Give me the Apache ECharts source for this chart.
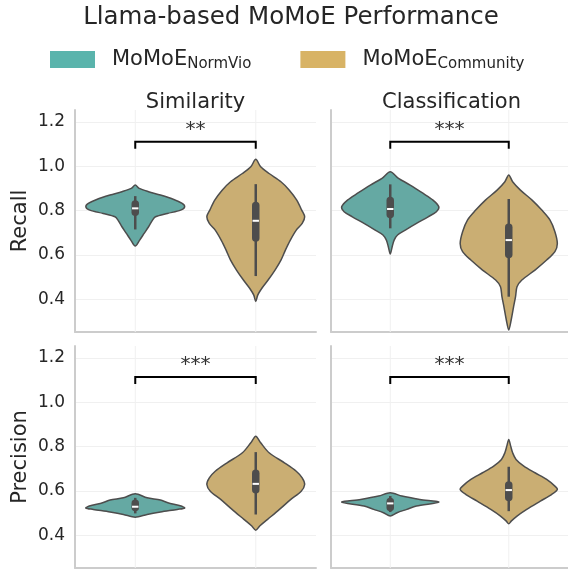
<!DOCTYPE html>
<html>
<head>
<meta charset="utf-8">
<script src="https://cdn.jsdelivr.net/npm/echarts@6.0.0/dist/echarts.min.js"></script>
<style>
html, body { margin: 0; padding: 0; background: #fff; }
#chart { width: 568px; height: 570px; }
</style>
</head>
<body>
<div id="chart"></div>
<script>
const tasks = ['Similarity', 'Classification']
const metrics = ['Recall', 'Precision']
const groups = ['MoMoE_NormVio', 'MoMoE_Community']

// violin outlines: [value, relative density]
const simRecallNormVio = [[0.915, 0], [0.900, 0.08], [0.885, 0.27], [0.870, 0.51], [0.850, 0.78], [0.832, 0.95], [0.817, 1.0], [0.802, 0.92], [0.787, 0.65], [0.772, 0.41], [0.757, 0.35], [0.727, 0.27], [0.697, 0.18], [0.667, 0.09], [0.640, 0]]
const simRecallCommunity = [[1.031, 0], [0.997, 0.10], [0.967, 0.27], [0.930, 0.51], [0.892, 0.68], [0.847, 0.83], [0.802, 0.93], [0.772, 0.99], [0.742, 0.94], [0.712, 0.82], [0.667, 0.70], [0.622, 0.60], [0.577, 0.51], [0.532, 0.39], [0.487, 0.25], [0.449, 0.12], [0.419, 0.04], [0.390, 0]]
const clsRecallNormVio = [[0.975, 0], [0.945, 0.17], [0.915, 0.41], [0.877, 0.68], [0.847, 0.88], [0.817, 1.0], [0.795, 0.95], [0.772, 0.78], [0.742, 0.54], [0.712, 0.31], [0.690, 0.15], [0.667, 0.08], [0.637, 0.04], [0.604, 0]]
const clsRecallCommunity = [[0.960, 0], [0.930, 0.08], [0.892, 0.24], [0.847, 0.48], [0.802, 0.68], [0.757, 0.85], [0.705, 0.95], [0.652, 1.0], [0.615, 0.95], [0.577, 0.78], [0.532, 0.54], [0.487, 0.27], [0.457, 0.17], [0.412, 0.14], [0.367, 0.10], [0.307, 0.05], [0.262, 0]]
const simPrecNormVio = [[0.587, 0], [0.569, 0.24], [0.559, 0.51], [0.547, 0.66], [0.532, 0.93], [0.523, 1.0], [0.517, 0.85], [0.505, 0.51], [0.494, 0.24], [0.482, 0]]
const simPrecCommunity = [[0.847, 0], [0.817, 0.10], [0.772, 0.27], [0.727, 0.58], [0.689, 0.82], [0.659, 0.94], [0.629, 0.99], [0.599, 0.92], [0.562, 0.71], [0.517, 0.48], [0.472, 0.24], [0.442, 0.08], [0.423, 0]]
const clsPrecNormVio = [[0.592, 0], [0.577, 0.24], [0.562, 0.61], [0.550, 1.0], [0.532, 0.54], [0.517, 0.34], [0.502, 0.14], [0.487, 0]]
const clsPrecCommunity = [[0.832, 0], [0.802, 0.04], [0.772, 0.08], [0.742, 0.15], [0.712, 0.31], [0.682, 0.54], [0.652, 0.78], [0.622, 0.95], [0.607, 1.0], [0.584, 0.88], [0.554, 0.65], [0.517, 0.37], [0.487, 0.17], [0.464, 0.05], [0.452, 0]]

// inner boxes: [low whisker, q1, median, q3, high whisker]
const simRecallBox = [[0.715, 0.775, 0.810, 0.847, 0.865], [0.505, 0.660, 0.754, 0.840, 0.919]]
const clsRecallBox = [[0.720, 0.765, 0.807, 0.862, 0.918], [0.412, 0.585, 0.667, 0.742, 0.852]]
const simPrecBox = [[0.499, 0.509, 0.529, 0.562, 0.569], [0.494, 0.589, 0.632, 0.697, 0.775]]
const clsPrecBox = [[0.505, 0.509, 0.544, 0.569, 0.577], [0.509, 0.554, 0.604, 0.644, 0.709]]

const sigLabels = ['**', '***', '***', '***']
const bracketLevel = [1.110, 1.110, 1.113, 1.113]

const panelProfiles = [
  [simRecallNormVio, simRecallCommunity],
  [clsRecallNormVio, clsRecallCommunity],
  [simPrecNormVio, simPrecCommunity],
  [clsPrecNormVio, clsPrecCommunity]
]
const panelBoxes = [simRecallBox, clsRecallBox, simPrecBox, clsPrecBox]

const font = 'DejaVu Sans'
const textColor = '#262626'
const legendColors = ['#5ab4ac', '#d8b365']
const violinColors = ['#65a9a3', '#caae73']
const lineColor = '#4d4d4d'
const maxHalf = 0.41

const grids = [
  { left: 75, top: 110, width: 241, height: 222 },
  { left: 331, top: 110, width: 241, height: 222 },
  { left: 75, top: 346, width: 241, height: 222 },
  { left: 331, top: 346, width: 241, height: 222 }
]

function violinRender(profile, box, xc) {
  return function(params, api) {
    const cs = params.coordSys
    const right = profile.map(p => api.coord([xc + p[1] * maxHalf, p[0]]))
    const left = profile.slice(1, -1).reverse().map(p => api.coord([xc - p[1] * maxHalf, p[0]]))
    const c = api.coord([xc, box[2]])
    const lo = api.coord([xc, box[0]])
    const hi = api.coord([xc, box[4]])
    const q1 = api.coord([xc, box[1]])
    const q3 = api.coord([xc, box[3]])
    const bw = 7.5
    return {
      type: 'group',
      children: [
        {
          type: 'line',
          shape: { x1: c[0], y1: cs.y, x2: c[0], y2: cs.y + cs.height },
          style: { stroke: '#f0f0f0', lineWidth: 1 }
        },
        {
          type: 'polygon',
          shape: { points: right.concat(left), smooth: 0.3 },
          style: { fill: violinColors[xc], stroke: lineColor, lineWidth: 1.5 }
        },
        {
          type: 'line',
          shape: { x1: c[0], y1: hi[1], x2: c[0], y2: lo[1] },
          style: { stroke: lineColor, lineWidth: 2.5 }
        },
        {
          type: 'rect',
          shape: { x: c[0] - bw / 2, y: q3[1], width: bw, height: q1[1] - q3[1], r: bw / 2 },
          style: { fill: lineColor }
        },
        {
          type: 'rect',
          shape: { x: c[0] - 3.2, y: c[1] - 1, width: 6.4, height: 2 },
          style: { fill: '#ffffff' }
        }
      ]
    }
  }
}

function bracketRender(p) {
  return function(params, api) {
    const a = api.coord([0, bracketLevel[p]])
    const b = api.coord([1, bracketLevel[p]])
    return {
      type: 'group',
      children: [
        {
          type: 'polyline',
          shape: { points: [[a[0], a[1] + 7], [a[0], a[1]], [b[0], b[1]], [b[0], b[1] + 7]] },
          style: { stroke: '#000000', lineWidth: 2, fill: null }
        },
        {
          type: 'text',
          style: {
            text: sigLabels[p],
            x: (a[0] + b[0]) / 2,
            y: a[1] - 2,
            align: 'center',
            verticalAlign: 'bottom',
            font: '20px "DejaVu Sans"',
            fill: '#333333'
          }
        }
      ]
    }
  }
}

const series = []
for (let p = 0; p < 4; p++) {
  for (let g = 0; g < 2; g++) {
    series.push({
      name: groups[g],
      type: 'custom',
      xAxisIndex: p,
      yAxisIndex: p,
      itemStyle: { color: legendColors[g] },
      renderItem: violinRender(panelProfiles[p][g], panelBoxes[p][g], g),
      data: [[g, panelBoxes[p][g][2]]],
      silent: true,
      clip: false
    })
  }
}
for (let p = 0; p < 4; p++) {
  series.push({
    type: 'custom',
    xAxisIndex: p,
    yAxisIndex: p,
    renderItem: bracketRender(p),
    data: [[0.5, bracketLevel[p]]],
    silent: true,
    clip: false
  })
}

const chart = echarts.init(document.getElementById('chart'), null, { renderer: 'canvas' })
const option = {
  backgroundColor: '#ffffff',
  animation: false,
  title: [
    {
      text: 'Llama-based MoMoE Performance',
      left: 291, top: 5, padding: 0, textAlign: 'center',
      textStyle: { fontFamily: font, fontSize: 24.5, fontWeight: 'normal', color: textColor }
    }
  ].concat(tasks.map((t, i) => ({
    text: t,
    left: grids[i].left + grids[i].width / 2, top: 92, padding: 0, textAlign: 'center',
    textStyle: { fontFamily: font, fontSize: 21, fontWeight: 'normal', color: textColor }
  }))),
  legend: {
    left: 50,
    top: 49,
    padding: 0,
    icon: 'rect',
    itemWidth: 45,
    itemHeight: 17,
    itemGap: 49,
    selectedMode: false,
    data: groups.map((g, i) => ({ name: g, itemStyle: { color: legendColors[i] } })),
    formatter: name => {
      const parts = name.split('_')
      return '{main|' + parts[0] + '}{sub|' + parts[1] + '}'
    },
    textStyle: {
      rich: {
        main: { fontFamily: font, fontSize: 21, color: textColor, lineHeight: 24, padding: [0, 0, 0, 12] },
        sub: { fontFamily: font, fontSize: 15, color: textColor, lineHeight: 15, verticalAlign: 'bottom' }
      }
    }
  },
  grid: grids,
  xAxis: grids.map((gr, i) => ({
    type: 'value',
    gridIndex: i,
    min: -0.5,
    max: 1.5,
    axisLabel: { show: false },
    axisTick: { show: false },
    splitLine: { show: false },
    axisLine: { show: true, onZero: false, lineStyle: { color: '#cccccc', width: 2 } }
  })),
  yAxis: grids.map((gr, i) => ({
    type: 'value',
    gridIndex: i,
    min: 0.253,
    max: 1.253,
    splitNumber: 5,
    name: i % 2 === 0 ? metrics[Math.floor(i / 2)] : '',
    nameLocation: 'middle',
    nameGap: 44,
    nameTextStyle: { fontFamily: font, fontSize: 21, color: textColor },
    axisLine: { show: true, onZero: false, lineStyle: { color: '#cccccc', width: 2 } },
    axisTick: { show: false },
    axisLabel: {
      show: i % 2 === 0,
      showMinLabel: false,
      showMaxLabel: false,
      margin: 10,
      fontFamily: font,
      fontSize: 17,
      color: textColor,
      formatter: v => v.toFixed(1)
    },
    splitLine: {
      show: true,
      showMinLine: false,
      showMaxLine: false,
      lineStyle: { color: '#f0f0f0', width: 1 }
    }
  })),
  series: series
}
chart.setOption(option)
</script>
</body>
</html>
